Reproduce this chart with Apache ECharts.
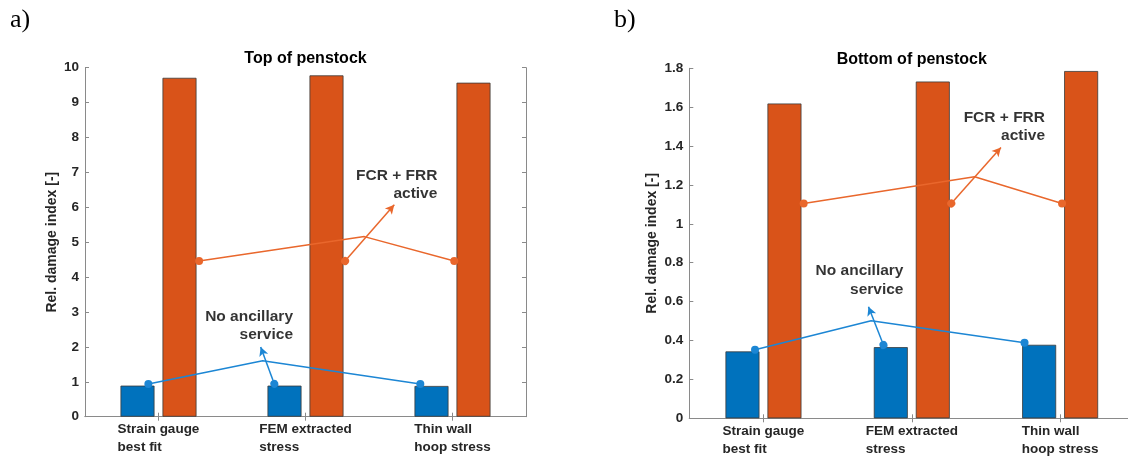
<!DOCTYPE html>
<html>
<head>
<meta charset="utf-8">
<script src="https://cdn.jsdelivr.net/npm/echarts@6/dist/echarts.min.js"></script>
<style>
html,body{margin:0;padding:0;background:#fff;}
#chart{width:1128px;height:457px;}
</style>
</head>
<body>
<div id="chart"></div>
<script>
// ---- data ----
var categories = ['Strain gauge\nbest fit', 'FEM extracted\nstress', 'Thin wall\nhoop stress'];
var panelTitles = ['Top of penstock', 'Bottom of penstock'];
var panelLetters = ['a)', 'b)'];
var yAxisName = 'Rel. damage index [-]';
var yMax = [10, 1.8];
var yInterval = [1, 0.2];

var topNoService = [0.89, 0.89, 0.88];
var topFcrFrr = [9.71, 9.78, 9.57];
var bottomNoService = [0.344, 0.366, 0.378];
var bottomFcrFrr = [1.619, 1.732, 1.786];

// annotation points, x in category units (0.5 = first category centre), y in data units
var topBlueLine = [[0.431, 0.94], [1.209, 1.60], [2.281, 0.94]];
var topBlueArrow = [[1.288, 0.94], [1.195, 2.0]];
var topOrangeLine = [[0.776, 4.46], [1.900, 5.16], [2.512, 4.46]];
var topOrangeArrow = [[1.769, 4.46], [2.104, 6.07]];
var topBlueText = [1.415, 2.60];
var topOrangeText = [2.397, 6.64];

var bottomBlueLine = [[0.443, 0.353], [1.226, 0.502], [2.260, 0.389]];
var bottomBlueArrow = [[1.309, 0.377], [1.208, 0.574]];
var bottomOrangeLine = [[0.771, 1.105], [1.923, 1.242], [2.513, 1.105]];
var bottomOrangeArrow = [[1.766, 1.105], [2.101, 1.393]];
var bottomBlueText = [1.444, 0.709];
var bottomOrangeText = [2.398, 1.50];

var blueText = 'No ancillary\nservice';
var orangeText = 'FCR + FRR\nactive';

// ---- styles ----
var FONT = '"Liberation Sans", Arial, Helvetica, sans-serif';
var AX = '#8a8a8a';
var TXT = '#262626';
var BLUE = '#0072BD', ORANGE = '#D95319';
var BLUE_L = '#1c86d4', ORANGE_L = '#e9672c';

var grids = [
  {left: 85, top: 67.7, width: 441, height: 349},
  {left: 689.3, top: 68.3, width: 445, height: 350}
];

var panels = [
  {bars: [topNoService, topFcrFrr], bl: topBlueLine, ba: topBlueArrow, ol: topOrangeLine, oa: topOrangeArrow, bt: topBlueText, ot: topOrangeText, nameGap: 26},
  {bars: [bottomNoService, bottomFcrFrr], bl: bottomBlueLine, ba: bottomBlueArrow, ol: bottomOrangeLine, oa: bottomOrangeArrow, bt: bottomBlueText, ot: bottomOrangeText, nameGap: 30}
];

var xAxes = [], yAxes = [], series = [];

function catLabelFormatter(v) {
  return v.split('\n').map(function (s) { return '{l|' + s + '}'; }).join('\n');
}

panels.forEach(function (p, g) {
  var tick = {show: true, alignWithLabel: true, inside: true, length: 4, lineStyle: {color: AX, width: 1}};
  xAxes.push({
    type: 'category', gridIndex: g, data: categories, position: 'bottom',
    axisLine: {show: true, lineStyle: {color: AX, width: 1}},
    axisTick: tick,
    axisLabel: {
      margin: 4, color: TXT, formatter: catLabelFormatter,
      rich: {l: {align: 'left', fontFamily: FONT, fontWeight: 'bold', fontSize: 13.5, lineHeight: 18, color: TXT}}
    },
    splitLine: {show: false}
  });
  xAxes.push({
    type: 'category', gridIndex: g, data: categories, position: 'top',
    axisLine: {show: true, lineStyle: {color: AX, width: 1}},
    axisTick: tick,
    axisLabel: {show: false},
    name: panelTitles[g], nameLocation: 'middle', nameGap: 1,
    nameTextStyle: {fontFamily: FONT, fontWeight: 'bold', fontSize: 16, color: '#000'}
  });
  xAxes.push({type: 'value', gridIndex: g, min: 0, max: 3, show: false});

  var ytick = {show: true, inside: true, length: 4, lineStyle: {color: AX, width: 1}};
  yAxes.push({
    type: 'value', gridIndex: g, min: 0, max: yMax[g], interval: yInterval[g], position: 'left',
    axisLine: {show: true, lineStyle: {color: AX, width: 1}},
    axisTick: ytick,
    splitLine: {show: false},
    axisLabel: {margin: 6, color: TXT, fontFamily: FONT, fontWeight: 'bold', fontSize: 13.5},
    name: yAxisName, nameLocation: 'middle', nameRotate: 90, nameGap: p.nameGap,
    nameTextStyle: {fontFamily: FONT, fontWeight: 'bold', fontSize: 14, color: TXT}
  });
  yAxes.push({
    type: 'value', gridIndex: g, min: 0, max: yMax[g], interval: yInterval[g], position: 'right',
    axisLine: {show: true, lineStyle: {color: AX, width: 1}},
    axisTick: ytick,
    splitLine: {show: false},
    axisLabel: {show: false}
  });

  var xi = g * 3, yi = g * 2;
  [BLUE, ORANGE].forEach(function (c, k) {
    series.push({
      type: 'bar', xAxisIndex: xi, yAxisIndex: yi, data: p.bars[k],
      barWidth: 34, barGap: '23.5%',
      itemStyle: {color: c, borderColor: '#3a3a3a', borderWidth: 0.8},
      z: 2
    });
  });

  function polyline(pts, col) {
    return {
      type: 'line', xAxisIndex: xi + 2, yAxisIndex: yi,
      data: pts.map(function (pt, i) {
        return {value: pt, symbol: (i === 0 || i === pts.length - 1) ? 'circle' : 'none'};
      }),
      symbolSize: 8, showSymbol: true,
      lineStyle: {color: col, width: 1.5},
      itemStyle: {color: col, borderWidth: 0},
      z: 5
    };
  }
  function arrow(pts, col) {
    return {
      type: 'line', xAxisIndex: xi + 2, yAxisIndex: yi, data: [],
      markLine: {
        silent: true, animation: false,
        label: {show: false},
        lineStyle: {color: col, width: 1.5, type: 'solid'},
        data: [[
          {coord: pts[0], symbol: 'circle', symbolSize: 8},
          {coord: pts[1], symbol: 'arrow', symbolSize: [7, 9]}
        ]]
      },
      z: 5
    };
  }
  function text(pt, str) {
    return {
      type: 'scatter', xAxisIndex: xi + 2, yAxisIndex: yi,
      data: [pt], symbolSize: 0, itemStyle: {color: '#000'},
      label: {
        show: true, position: 'left', distance: 0, align: 'right',
        formatter: str, fontFamily: FONT, fontWeight: 'bold', fontSize: 15.5,
        lineHeight: 18.5, color: '#000'
      },
      z: 6
    };
  }
  series.push(polyline(p.bl, BLUE_L));
  series.push(arrow(p.ba, BLUE_L));
  series.push(polyline(p.ol, ORANGE_L));
  series.push(arrow(p.oa, ORANGE_L));
  series.push(text(p.bt, blueText));
  series.push(text(p.ot, orangeText));
});

var chart = echarts.init(document.getElementById('chart'), null, {renderer: 'canvas'});
chart.setOption({
  animation: false,
  backgroundColor: '#fff',
  grid: grids.map(function (g) { return Object.assign({containLabel: false, outerBoundsMode: 'none'}, g); }),
  xAxis: xAxes,
  yAxis: yAxes,
  series: series,
  graphic: [
    {type: 'text', left: 10, top: 7, style: {text: panelLetters[0], font: '26px "Liberation Serif", "Times New Roman", serif', fill: '#000'}},
    {type: 'text', left: 614, top: 7, style: {text: panelLetters[1], font: '26px "Liberation Serif", "Times New Roman", serif', fill: '#000'}}
  ]
});
</script>
</body>
</html>
